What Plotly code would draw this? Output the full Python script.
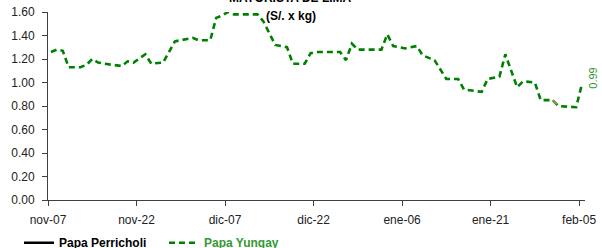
import pandas as pd
import plotly.graph_objects as go

# ---- data ----
yungay_dates = [
    "2019-11-07", "2019-11-08", "2019-11-09", "2019-11-10", "2019-11-12", "2019-11-13",
    "2019-11-14", "2019-11-15", "2019-11-16", "2019-11-19", "2019-11-20", "2019-11-21",
    "2019-11-23", "2019-11-24", "2019-11-26", "2019-11-28", "2019-11-29", "2019-12-01",
    "2019-12-02", "2019-12-04", "2019-12-05", "2019-12-06", "2019-12-07", "2019-12-08",
    "2019-12-12", "2019-12-13", "2019-12-15", "2019-12-17", "2019-12-18", "2019-12-20",
    "2019-12-21", "2019-12-22", "2019-12-26", "2019-12-27", "2019-12-28", "2019-12-29",
    "2020-01-02", "2020-01-03", "2020-01-04", "2020-01-06", "2020-01-08", "2020-01-09",
    "2020-01-11", "2020-01-13", "2020-01-15", "2020-01-16", "2020-01-19", "2020-01-20",
    "2020-01-22", "2020-01-23", "2020-01-25", "2020-01-26", "2020-01-28", "2020-01-29",
    "2020-01-31", "2020-02-01", "2020-02-04", "2020-02-05",
]
yungay_values = [
    1.26, 1.28, 1.27, 1.13, 1.13, 1.15,
    1.20, 1.17, 1.16, 1.14, 1.18, 1.17,
    1.24, 1.16, 1.17, 1.35, 1.36, 1.38,
    1.36, 1.36, 1.55, 1.57, 1.60, 1.58,
    1.58, 1.52, 1.32, 1.30, 1.16, 1.16,
    1.25, 1.26, 1.26, 1.19, 1.33, 1.28,
    1.28, 1.41, 1.31, 1.29, 1.31, 1.23,
    1.19, 1.03, 1.03, 0.94, 0.92, 1.03,
    1.05, 1.24, 0.96, 1.01, 1.00, 0.85,
    0.85, 0.80, 0.79, 0.99,
]
perricholi_dates = []
perricholi_values = []

tick_dates = ["2019-11-07", "2019-11-22", "2019-12-07", "2019-12-22",
              "2020-01-06", "2020-01-21", "2020-02-05"]
tick_labels = ["nov-07", "nov-22", "dic-07", "dic-22", "ene-06", "ene-21", "feb-05"]
y_ticks = [0.0, 0.2, 0.4, 0.6, 0.8, 1.0, 1.2, 1.4, 1.6]

title_line1 = "MAYORISTA DE LIMA"
title_line2 = "(S/. x kg)"

# ---- styling ----
FONT = "Arial, 'Liberation Sans', sans-serif"
GREEN = "#008000"
LIGHT_GREEN = "#339933"
OLIVE = "#85994a"
AXIS = "#404040"

# Excel date axis "between tick marks": each day drawn at its mid point
half_day = pd.Timedelta(hours=12)
yx = pd.to_datetime(pd.Series(yungay_dates)) + half_day

fig = go.Figure()

fig.add_trace(go.Scatter(
    x=list(perricholi_dates) if perricholi_dates else [None],
    y=list(perricholi_values) if perricholi_values else [None],
    mode="lines", name="<b>Papa Perricholi</b>",
    line=dict(color="black", width=2.5),
))
fig.add_trace(go.Scatter(
    x=yx, y=yungay_values, mode="lines",
    name="<b><span style='color:" + LIGHT_GREEN + "'>Papa Yungay</span></b>",
    line=dict(color=GREEN, width=2.6, dash="6px,4px"),
))
# short olive-tinted segment seen in the reference
seg_i = yungay_dates.index("2020-01-31")
fig.add_trace(go.Scatter(
    x=yx[seg_i:seg_i + 2], y=yungay_values[seg_i:seg_i + 2], mode="lines",
    line=dict(color=OLIVE, width=2.6, dash="6px,4px"), showlegend=False,
    hoverinfo="skip",
))

x_end = pd.to_datetime(tick_dates[-1]) + pd.Timedelta(days=1)

fig.update_layout(
    width=602, height=248,
    margin=dict(l=48, r=17, t=12, b=48, autoexpand=False),
    paper_bgcolor="white", plot_bgcolor="white",
    font=dict(family=FONT, size=12, color="#222222"),
    showlegend=True,
    legend=dict(
        orientation="h", x=-0.054, xanchor="left", y=-0.15, yanchor="top",
        font=dict(family=FONT, size=12, color="black"),
        bgcolor="rgba(0,0,0,0)", itemwidth=30, tracegroupgap=0,
        entrywidth=100, entrywidthmode="pixels",
    ),
    xaxis=dict(
        type="date",
        range=[pd.to_datetime(tick_dates[0]), x_end],
        tickmode="array", tickvals=pd.to_datetime(tick_dates), ticktext=tick_labels,
        showgrid=False, zeroline=False,
        showline=True, linecolor=AXIS, linewidth=1,
        ticks="outside", ticklen=5, tickcolor=AXIS, ticklabelstandoff=4,
        tickfont=dict(family=FONT, size=12, color="#222222"),
    ),
    yaxis=dict(
        range=[0, 1.6], tickmode="array", tickvals=y_ticks,
        ticktext=[f"{v:.2f}" for v in y_ticks],
        showgrid=False, zeroline=False,
        showline=True, linecolor=AXIS, linewidth=1,
        ticks="outside", ticklen=5, tickcolor=AXIS, ticklabelstandoff=5,
        tickfont=dict(family=FONT, size=12, color="#222222"),
    ),
)

fig.add_annotation(
    x=yx.iloc[-1], y=yungay_values[-1], xref="x", yref="y",
    text=f"{yungay_values[-1]:.2f}", textangle=-90, showarrow=False,
    xshift=11, yshift=5, font=dict(family=FONT, size=11, color=LIGHT_GREEN),
)
fig.add_annotation(
    x=0.4525, y=1.074, xref="paper", yref="paper", text="<b>" + title_line1 + "</b>",
    showarrow=False, xanchor="center", yanchor="middle",
    font=dict(family=FONT, size=12, color="black"),
)
fig.add_annotation(
    x=0.4525, y=0.979, xref="paper", yref="paper", text="<b>" + title_line2 + "</b>",
    showarrow=False, xanchor="center", yanchor="middle",
    font=dict(family=FONT, size=12, color="black"),
)

fig.write_html(
    "out.html",
    config={"displayModeBar": False},
    post_script="document.body.style.margin='0';document.body.style.overflow='hidden';",
)
